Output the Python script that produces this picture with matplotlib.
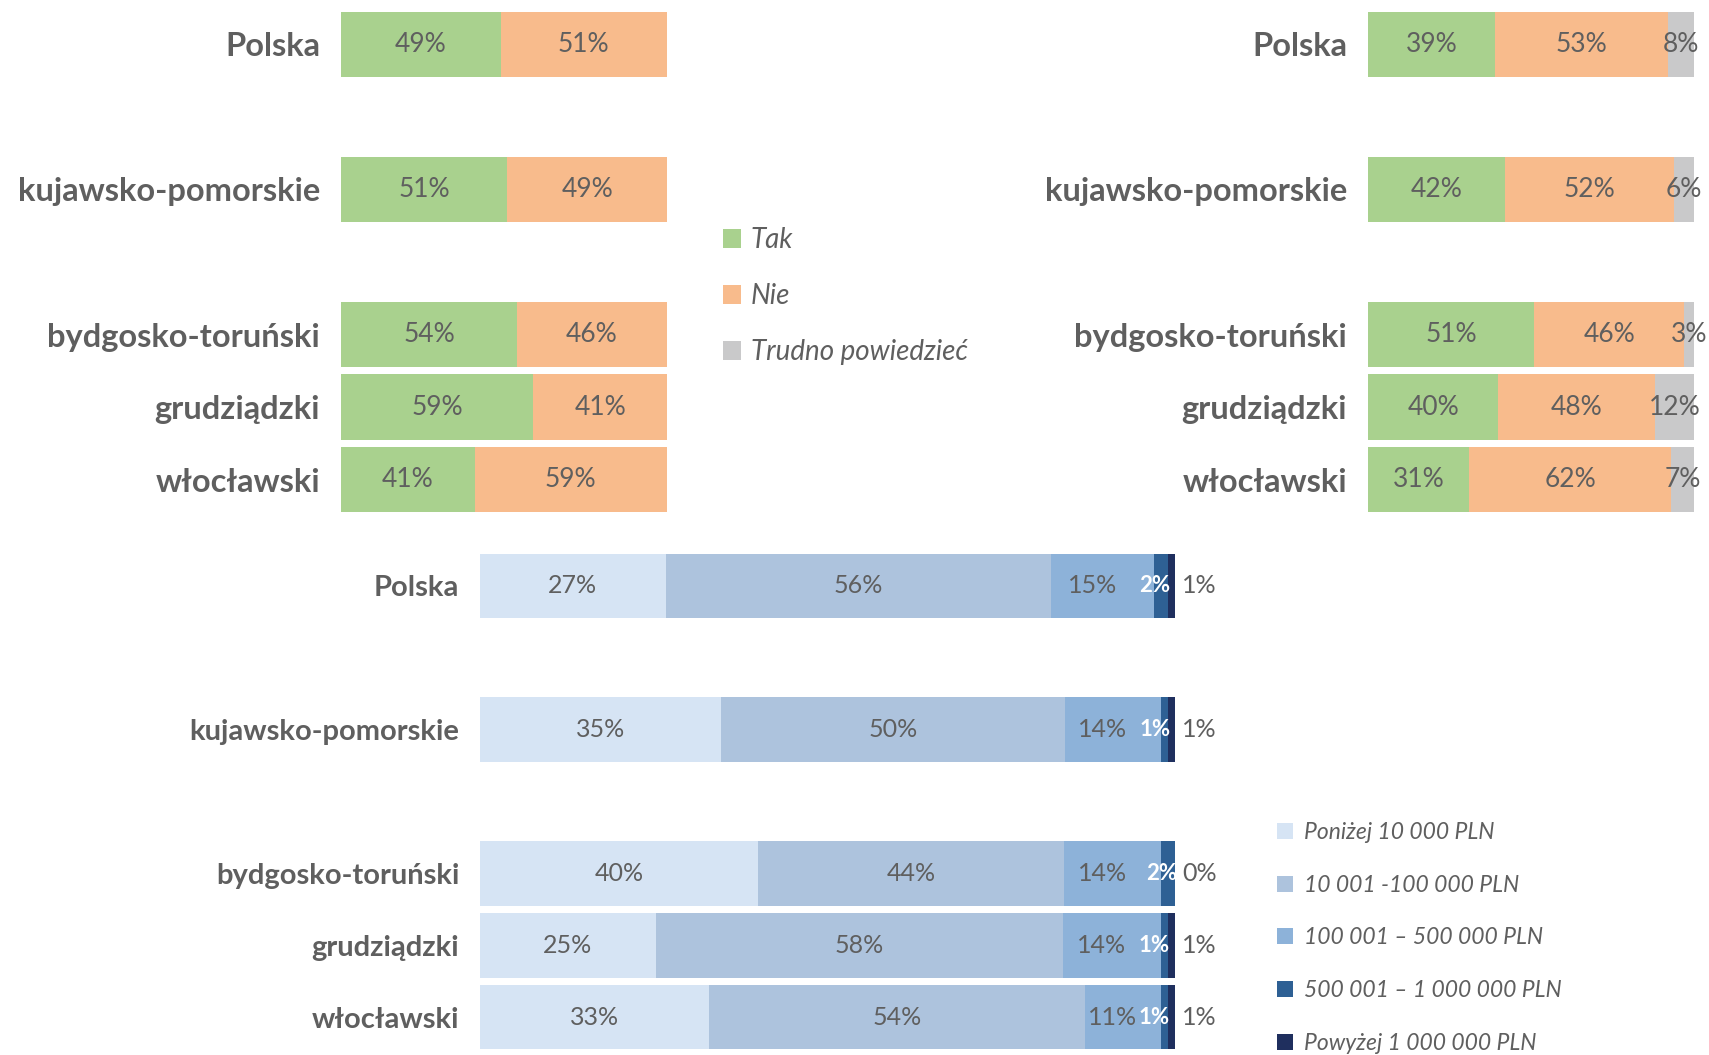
import matplotlib
matplotlib.use("Agg")
import matplotlib.pyplot as plt
import numpy as np

plt.rcParams['font.family'] = ['Lato', 'DejaVu Sans']

# Dane
regiony = ['Polska', 'kujawsko-pomorskie', 'bydgosko-toruński', 'grudziądzki', 'włocławski']
pozycje = [0, 2, 4, 5, 6]

tak_1 = [49, 51, 54, 59, 41]
nie_1 = [51, 49, 46, 41, 59]

tak_2 = [39, 42, 51, 40, 31]
nie_2 = [53, 52, 46, 48, 62]
trudno_2 = [8, 6, 3, 12, 7]

kwota_labels = ['Poniżej 10 000 PLN', '10 001 -100 000 PLN', '100 001 – 500 000 PLN',
                '500 001 – 1 000 000 PLN', 'Powyżej 1 000 000 PLN']
kwota_1 = [27, 35, 40, 25, 33]
kwota_2 = [56, 50, 44, 58, 54]
kwota_3 = [15, 14, 14, 14, 11]
kwota_4 = [2, 1, 2, 1, 1]
kwota_5 = [1, 1, 0, 1, 1]

zielony = '#A9D18E'
pomarancz = '#F8BB8C'
szary = '#C9C9CA'
niebieskie = ['#D6E4F4', '#ADC3DD', '#8DB2D9', '#2E6094', '#1F2F5E']
tekst = '#5f5f5f'

W, H = 1709, 1055
fig = plt.figure(figsize=(W / 100, H / 100), dpi=100)


def px_axes(x0, y0, x1, y1):
    return fig.add_axes([x0 / W, 1 - y1 / H, (x1 - x0) / W, (y1 - y0) / H])


def styl(ax, fs, pad):
    ax.set_ylim(6.5, -0.5)
    ax.set_xlim(0, 100)
    ax.set_yticks(pozycje)
    ax.set_yticklabels(regiony, fontsize=fs, fontweight='bold', color=tekst)
    ax.tick_params(axis='y', length=0, pad=pad)
    ax.set_xticks([])
    for s in ax.spines.values():
        s.set_visible(False)


h = 0.9

# Wykres 1 (lewy górny)
ax1 = px_axes(341, 8, 667, 516)
b1 = ax1.barh(pozycje, tak_1, height=h, color=zielony, label='Tak')
b2 = ax1.barh(pozycje, nie_1, left=tak_1, height=h, color=pomarancz, label='Nie')
for p, t, n in zip(pozycje, tak_1, nie_1):
    ax1.text(t / 2, p, f'{t}%', ha='center', va='center', fontsize=19, color=tekst)
    ax1.text(t + n / 2, p, f'{n}%', ha='center', va='center', fontsize=19, color=tekst)
styl(ax1, 23.5, 15)

# Wykres 2 (prawy górny)
ax2 = px_axes(1368, 8, 1694, 516)
ax2.barh(pozycje, tak_2, height=h, color=zielony)
ax2.barh(pozycje, nie_2, left=tak_2, height=h, color=pomarancz)
left3 = np.array(tak_2) + np.array(nie_2)
b3 = ax2.barh(pozycje, trudno_2, left=left3, height=h, color=szary, label='Trudno powiedzieć')
for p, t, n, d in zip(pozycje, tak_2, nie_2, trudno_2):
    ax2.text(t / 2, p, f'{t}%', ha='center', va='center', fontsize=19, color=tekst)
    ax2.text(t + n / 2, p, f'{n}%', ha='center', va='center', fontsize=19, color=tekst)
    ax2.text(t + n + d / 2, p, f'{d}%', ha='center', va='center', fontsize=19, color=tekst)
styl(ax2, 23.5, 15)

fig.legend(handles=[b1, b2, b3], loc='upper left', bbox_to_anchor=(712 / W, 1 - 216 / H),
           frameon=False, prop={'style': 'italic', 'size': 20}, labelcolor=tekst,
           handlelength=0.65, handleheight=0.65, handletextpad=0.35, labelspacing=1.08,
           borderaxespad=0)

# Wykres 3 (dolny)
ax3 = px_axes(480, 550, 1175, 1053)
kwoty = np.array([kwota_1, kwota_2, kwota_3, kwota_4, kwota_5], dtype=float)
udzialy = kwoty / kwoty.sum(axis=0) * 100
lewo = np.zeros(len(pozycje))
uchwyty = []
for i in range(5):
    b = ax3.barh(pozycje, udzialy[i], left=lewo, height=h, color=niebieskie[i], label=kwota_labels[i])
    uchwyty.append(b)
    for j, p in enumerate(pozycje):
        lab = f'{int(kwoty[i, j])}%'
        if i < 2:
            ax3.text(lewo[j] + udzialy[i, j] / 2, p, lab, ha='center', va='center',
                     fontsize=18, color=tekst)
        elif i == 2:
            ax3.text(lewo[j] + udzialy[i, j] / 2 - 1.5, p, lab, ha='center', va='center',
                     fontsize=18, color=tekst)
        elif i == 3:
            ax3.text(lewo[j] + udzialy[i, j] + 0.3, p, lab, ha='right', va='center',
                     fontsize=16, color='white', fontweight='bold')
        else:
            ax3.text(lewo[j] + udzialy[i, j] + 1.0, p, lab, ha='left', va='center',
                     fontsize=18, color=tekst)
    lewo = lewo + udzialy[i]
styl(ax3, 21, 15)

fig.legend(handles=uchwyty, loc='upper left', bbox_to_anchor=(1268 / W, 1 - 813 / H),
           frameon=False, prop={'style': 'italic', 'size': 16.5}, labelcolor=tekst,
           handlelength=0.7, handleheight=0.7, handletextpad=0.45, labelspacing=1.38,
           borderaxespad=0)

fig.savefig('out.png', dpi=100)
